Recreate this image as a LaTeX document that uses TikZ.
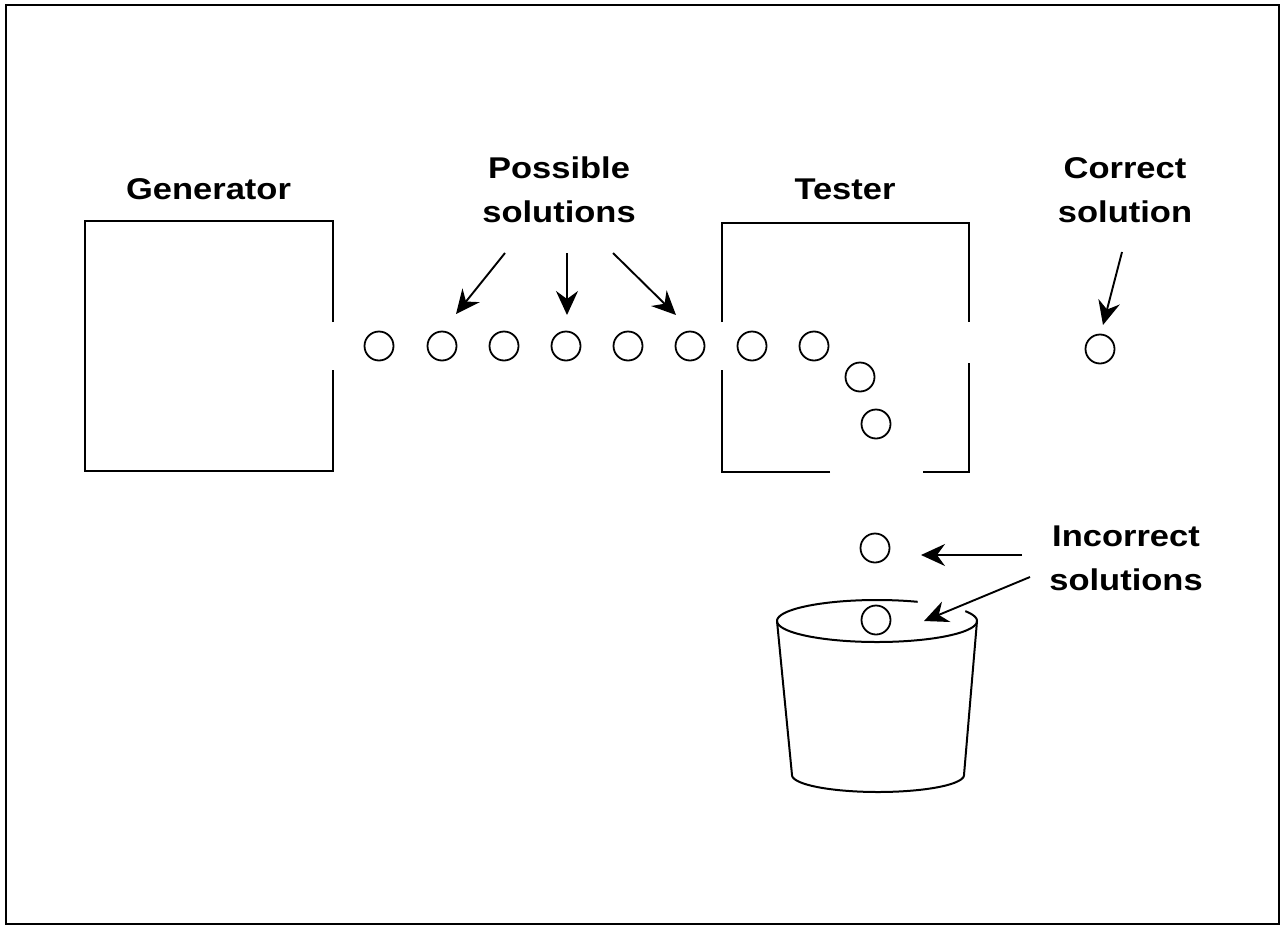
\documentclass[tikz,border=0pt]{standalone}
\usepackage{fontspec}
\newfontfamily\labfont{Liberation Sans}[FakeStretch=1.15]
\usetikzlibrary{arrows.meta}
\begin{document}
\begin{tikzpicture}[x=1pt,y=-1pt,
  lab/.style={font=\labfont\bfseries\fontsize{30}{44}\selectfont, align=center, inner sep=0pt, anchor=base},
  ball/.style={circle, draw, minimum size=29pt, inner sep=0pt, line width=1.8pt},
  wall/.style={line width=2.4pt, line cap=butt},
  pointer/.style={line width=1.9pt, -{Stealth[length=24pt, width=22pt, inset=8pt]}},
  bucketline/.style={line width=2pt, line join=round}]
\useasboundingbox (0,0) rectangle (1282,926);
% outer frame
\draw[line width=2.5pt] (6,5) rectangle (1279,924);

% Generator box with an opening on the right
\draw[wall] (333,322) -- (333,221) -- (85,221) -- (85,471) -- (333,471) -- (333,370);
\node[lab] (gen) at (208.5,199) {Generator};

% Tester box with openings left, right and bottom
\draw[wall] (722,322) -- (722,223) -- (969,223) -- (969,322);
\draw[wall] (969,363) -- (969,472) -- (923,472);
\draw[wall] (830,472) -- (722,472) -- (722,370);
\node[lab] (tes) at (845,199) {Tester};

% solutions flowing
\node[ball] (b1) at (379,346) {};
\node[ball] (b2) at (442,346) {};
\node[ball] (b3) at (504,346) {};
\node[ball] (b4) at (566,346) {};
\node[ball] (b5) at (628,346) {};
\node[ball] (b6) at (690,346) {};
\node[ball] (b7) at (752,346) {};
\node[ball] (b8) at (814,346) {};
\node[ball] (t1) at (860,377) {};
\node[ball] (t2) at (876,424) {};
\node[ball] (c1) at (1100,349) {};
\node[ball] (i1) at (875,548) {};
\node[ball] (i2) at (876,620) {};

% labels (base anchor = baseline of the last line)
\node[lab] (pos) at (559,222) {Possible\\solutions};
\node[lab] (cor) at (1125,222) {Correct\\solution};
\node[lab] (inc) at (1126,590) {Incorrect\\solutions};

% arrows
\coordinate (p1s) at (505,253); \coordinate (p1e) at (456,314);
\coordinate (p2s) at (567,253); \coordinate (p2e) at (567,315);
\coordinate (p3s) at (613,253); \coordinate (p3e) at (676,315);
\coordinate (cs) at (1122,252); \coordinate (ce) at (1103,325);
\coordinate (i1s) at (1022,555); \coordinate (i1e) at (921,555);
\coordinate (i2s) at (1030,577); \coordinate (i2e) at (924,621);
\draw[pointer] (p1s) -- (p1e);
\draw[pointer] (p2s) -- (p2e);
\draw[pointer] (p3s) -- (p3e);
\draw[pointer] (cs) -- (ce);
\draw[pointer] (i1s) -- (i1e);
\draw[pointer] (i2s) -- (i2e);

% bucket
\draw[bucketline] plot[domain=0:180, samples=60, smooth] ({877+100*cos(\x)}, {621+21*sin(\x)});
\draw[bucketline] plot[domain=180:294, samples=40, smooth] ({877+100*cos(\x)}, {621+21*sin(\x)});
\draw[bucketline] plot[domain=332:360, samples=15, smooth] ({877+100*cos(\x)}, {621+21*sin(\x)});
\draw[bucketline] (777,621) -- (792,775);
\draw[bucketline] (977,621) -- (964,775);
\draw[bucketline] plot[domain=0:180, samples=60, smooth] ({878+86*cos(\x)}, {775+17*sin(\x)});
\end{tikzpicture}
\end{document}
